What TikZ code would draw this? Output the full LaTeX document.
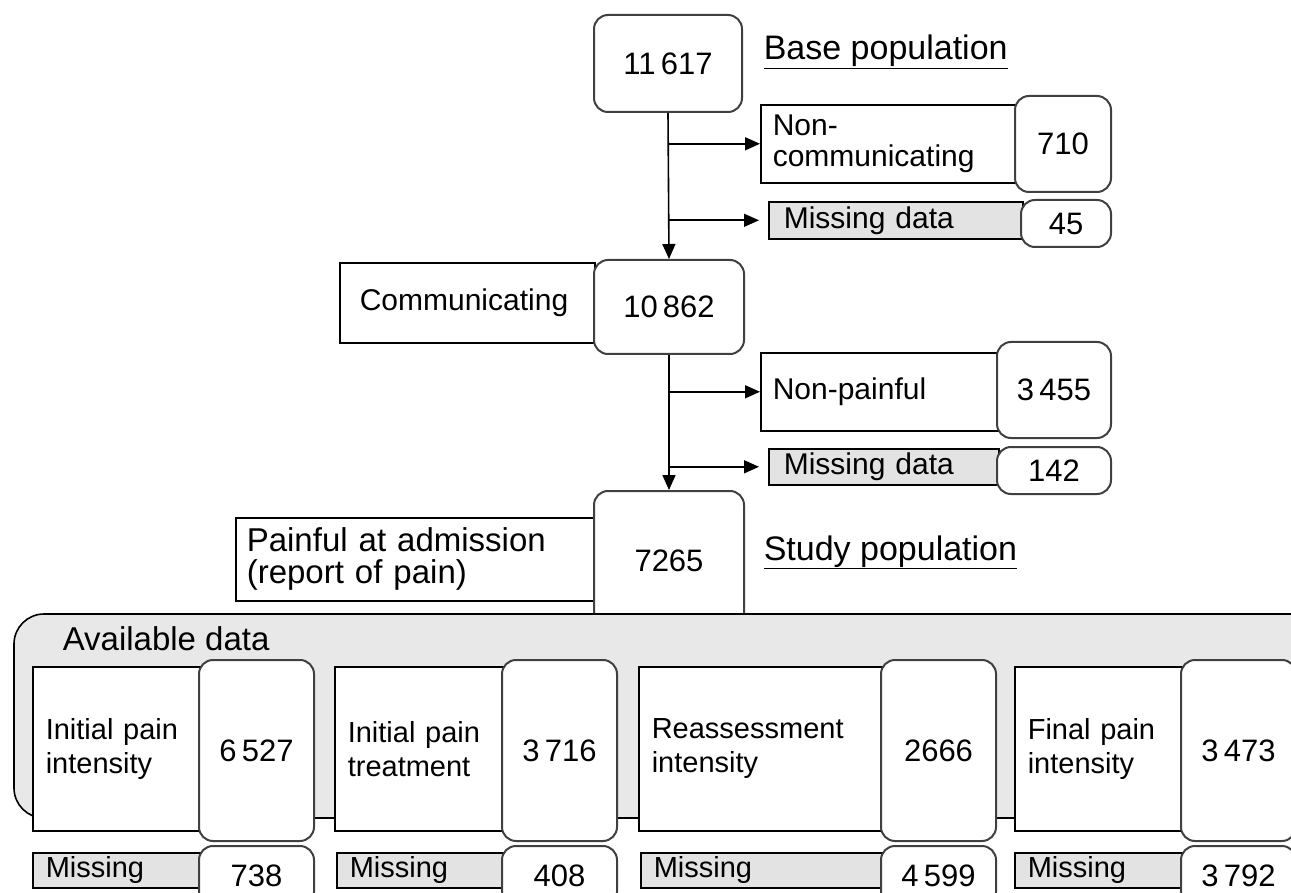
\documentclass[tikz,border=0pt]{standalone}
\usepackage{fontspec}
\setmainfont{Liberation Sans}
\usetikzlibrary{arrows.meta,positioning,calc}
\tikzset{every picture/.style={line width=1.6pt}}

\begin{document}
\begin{tikzpicture}[x=1pt,y=-1pt,
    numbox/.style={draw=black!75,line width=2pt,fill=white,rounded corners=14pt,anchor=north west,inner sep=0pt,font=\fontsize{31}{36}\selectfont},
    lblbox/.style={draw,fill=white,anchor=north west,inner ysep=0pt,inner xsep=12pt,align=left,font=\fontsize{30}{31}\selectfont},
    missbox/.style={lblbox,fill=black!11,inner xsep=15pt},
    datbox/.style={lblbox,inner xsep=13pt,font=\fontsize{29}{34}\selectfont},
    title/.style={anchor=base west,inner sep=0pt,font=\fontsize{34}{40}\selectfont},
    arr/.style={-{Triangle[length=15pt,width=13pt]}}]
    \useasboundingbox (0,0) rectangle (1291,893);
    \clip (0,0) rectangle (1291,893);

    % Base population
    \node[numbox,minimum width=148pt,minimum height=97pt] (base) at (593,14) {11\,617};
    \node[title] (basettl) at (763,60) {\underline{Base population}};

    % Excluded from base
    \node[lblbox,text width=234pt,minimum height=78pt] (noncom) at (760,104) {Non-\\communicating};
    \node[numbox,minimum width=96pt,minimum height=96pt] (n710) at (1014,95) {710};
    \node[missbox,text width=224pt,minimum height=37pt] (miss1) at (768,201) {Missing data};
    \node[numbox,minimum width=90pt,minimum height=47pt] (n45) at (1020,199) {45};

    % Communicating
    \node[lblbox,inner xsep=20pt,text width=215pt,minimum height=80pt] (com) at (339,262) {Communicating};
    \node[numbox,minimum width=150pt,minimum height=94pt] (n10862) at (593,259) {10\,862};

    % Excluded from communicating
    \node[lblbox,text width=216pt,minimum height=78pt] (nonpain) at (760,352) {Non-painful};
    \node[numbox,minimum width=114pt,minimum height=96pt] (n3455) at (996,341) {3\,455};
    \node[missbox,text width=200pt,minimum height=36pt] (miss2) at (768,448) {Missing data};
    \node[numbox,minimum width=114pt,minimum height=47pt] (n142) at (996,446) {142};

    % Study population
    \node[lblbox,inner xsep=11pt,text width=337pt,minimum height=83pt,font=\fontsize{33}{32}\selectfont] (painful) at (235,517) {Painful at admission\\(report of pain)};
    \node[numbox,minimum width=150pt,minimum height=140pt] (n7265) at (593,490) {7265};
    \node[title] (studyttl) at (763,560) {\underline{Study population}};

    % Connectors
    \coordinate (t1) at (base.south |- noncom.west);
    \coordinate (t2) at (base.south |- miss1.west);
    \coordinate (t3) at (n10862.south |- nonpain.west);
    \coordinate (t4) at (n10862.south |- miss2.west);
    \draw[arr] (base.south) -- (n10862.north);
    \draw[arr] (t1) -- (noncom.west);
    \draw[arr,shorten >=9pt] (t2) -- (miss1.west);
    \draw[arr] (n10862.south) -- (n7265.north);
    \draw[arr] (t3) -- (nonpain.west);
    \draw[arr,shorten >=9pt] (t4) -- (miss2.west);

    % Available data
    \draw[fill=black!9,rounded corners=30pt] (14,614) rectangle (1330,818);
    \node[title,font=\fontsize{33}{40}\selectfont] (avail) at (62,650) {Available data};

    \node[datbox,text width=142pt,minimum height=164pt] (ipi) at (32,666) {Initial pain\\intensity};
    \node[numbox,minimum width=115pt,minimum height=181pt] (n6527) at (198,659) {6\,527};
    \node[datbox,text width=143pt,minimum height=164pt] (ipt) at (334,666) {Initial pain\\treatment};
    \node[numbox,minimum width=115pt,minimum height=181pt] (n3716) at (501,659) {3\,716};
    \node[datbox,text width=218pt,minimum height=164pt] (rea) at (638,666) {Reassessment\\intensity};
    \node[numbox,minimum width=115pt,minimum height=181pt] (n2666) at (880,659) {2666};
    \node[datbox,text width=142pt,minimum height=164pt] (fpi) at (1014,666) {Final pain\\intensity};
    \node[numbox,minimum width=115pt,minimum height=181pt] (n3473) at (1180,659) {3\,473};

    % Missing per item
    \node[datbox,fill=black!11,text width=142pt,minimum height=35pt] (m1) at (32,852) {Missing};
    \node[numbox,minimum width=115pt,minimum height=60pt] (n738) at (198,845) {738};
    \node[datbox,fill=black!11,text width=141pt,minimum height=35pt] (m2) at (336,852) {Missing};
    \node[numbox,minimum width=115pt,minimum height=60pt] (n408) at (501,845) {408};
    \node[datbox,fill=black!11,text width=216pt,minimum height=35pt] (m3) at (640,852) {Missing};
    \node[numbox,minimum width=115pt,minimum height=60pt] (n4599) at (880,845) {4\,599};
    \node[datbox,fill=black!11,text width=142pt,minimum height=35pt] (m4) at (1014,852) {Missing};
    \node[numbox,minimum width=115pt,minimum height=60pt] (n3792) at (1180,845) {3\,792};
\end{tikzpicture}
\end{document}
